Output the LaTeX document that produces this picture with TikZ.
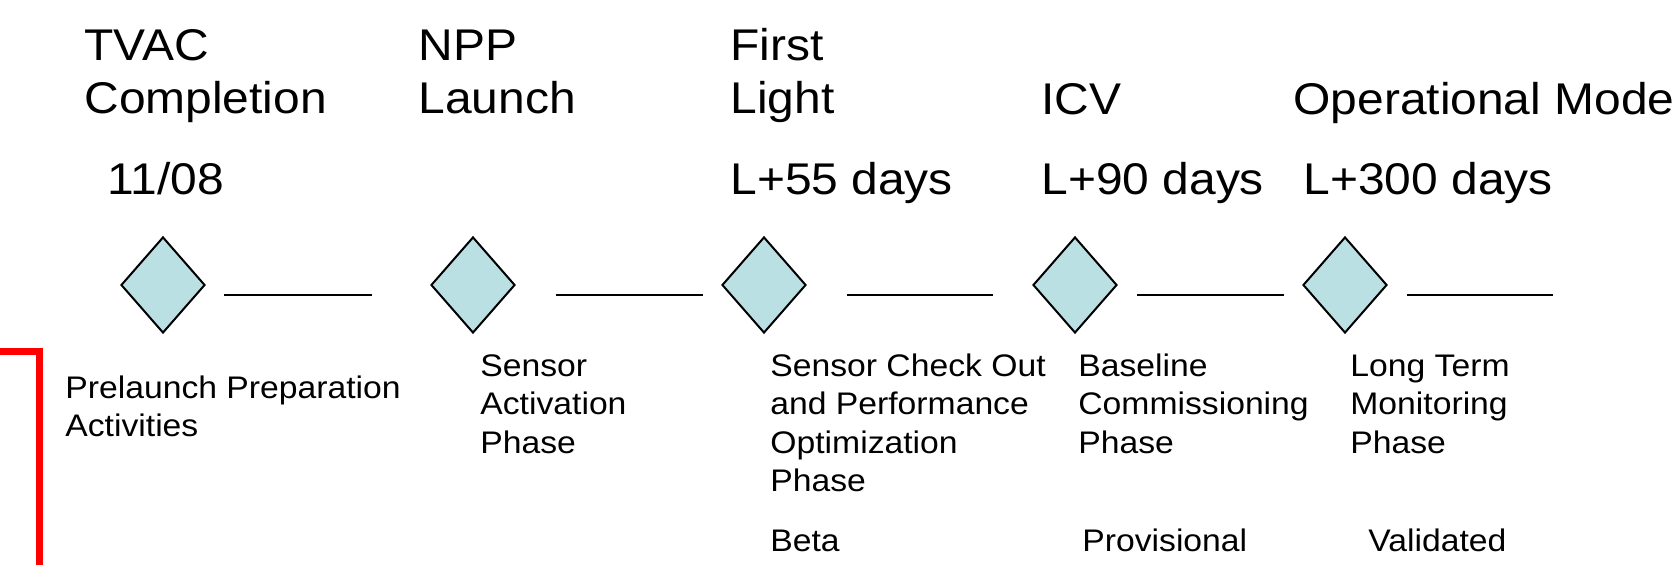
\documentclass[tikz,border=0pt]{standalone}
\usepackage{fontspec}
\setmainfont{Liberation Sans}
\newfontfamily\labelfont[FakeStretch=1.08]{Liberation Sans}
\usetikzlibrary{shapes.geometric}
\definecolor{milefill}{RGB}{186,224,227}
\definecolor{markred}{RGB}{255,0,0}

\begin{document}
\begin{tikzpicture}[x=0.5pt, y=-0.5pt,
  milestone/.style={diamond, draw=black, line width=1pt, fill=milefill,
    inner sep=0pt, minimum width=42pt, minimum height=48pt},
  seg/.style={line width=1.35pt, black},
  headtxt/.style={anchor=north west, inner sep=0pt, align=left,
    font=\labelfont\fontsize{22.2pt}{26.5pt}\selectfont},
  datetxt/.style={anchor=base west, inner sep=0pt,
    font=\labelfont\fontsize{22.2pt}{26.5pt}\selectfont},
  phasetxt/.style={anchor=north west, inner sep=0pt, align=left,
    font=\labelfont\fontsize{15.6pt}{19.15pt}\selectfont},
  gradetxt/.style={anchor=base west, inner sep=0pt,
    font=\labelfont\fontsize{15.6pt}{19.15pt}\selectfont},
  redmark/.style={markred, line width=3.5pt, line join=miter}
]
\useasboundingbox (0,0) rectangle (1672,565);
\clip (0,0) rectangle (1672,565);

% milestone headings
\node[headtxt] (h1) at (84,22.9)   {\strut TVAC\\Completion};
\node[headtxt] (h2) at (418,22.9)  {\strut NPP\\Launch};
\node[headtxt] (h3) at (730,22.9)  {\strut First\\Light};
\node[datetxt] (h4) at (1041,115)  {ICV};
\node[datetxt] (h5) at (1293,115)  {Operational Mode};

% dates
\node[datetxt] (t1) at (107,195)  {11/08};
\node[datetxt] (t3) at (730,195)  {L+55 days};
\node[datetxt] (t4) at (1041,195) {L+90 days};
\node[datetxt] (t5) at (1303,195) {L+300 days};

% milestone markers
\node[milestone] (m1) at (163,285)  {};
\node[milestone] (m2) at (473,285)  {};
\node[milestone] (m3) at (764,285)  {};
\node[milestone] (m4) at (1075,285) {};
\node[milestone] (m5) at (1345,285) {};

% phase bars after each milestone
\foreach \i/\a/\b in {1/224/372, 2/556/703, 3/847/993, 4/1137/1284, 5/1407/1553}{
  \coordinate (s\i a) at (\a,295);
  \coordinate (s\i b) at (\b,295);
  \draw[seg] (s\i a) -- (s\i b);
}

% phase descriptions
\node[phasetxt] (p1) at (65,371.2)   {\strut Prelaunch Preparation\\Activities};
\node[phasetxt] (p2) at (480,349.2)  {\strut Sensor\\Activation\\Phase};
\node[phasetxt] (p3) at (770,349.2)  {\strut Sensor Check Out\\and Performance\\Optimization\\Phase};
\node[phasetxt] (p4) at (1078,349.2) {\strut Baseline\\Commissioning\\Phase};
\node[phasetxt] (p5) at (1350,349.2) {\strut Long Term\\Monitoring\\Phase};

% product maturity levels
\node[gradetxt] (g3) at (770,552)  {Beta};
\node[gradetxt] (g4) at (1082,552) {Provisional};
\node[gradetxt] (g5) at (1368,552) {Validated};

% red bracket at the left edge
\coordinate (r0) at (-10,352);
\coordinate (r1) at (39,352);
\coordinate (r2) at (39,580);
\draw[redmark] (r0) -- (r1) -- (r2);
\end{tikzpicture}
\end{document}
